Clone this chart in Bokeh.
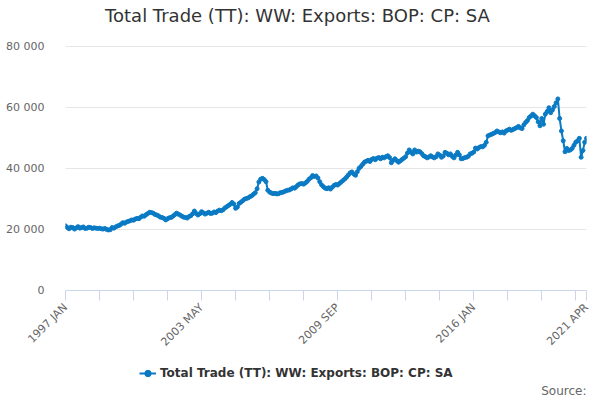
import numpy as np
from bokeh.plotting import figure
from bokeh.layouts import column
from bokeh.models import ColumnDataSource, FixedTicker, Legend, LegendItem, Label
from bokeh.embed import file_html
from bokeh.resources import INLINE

SERIES_NAME = "Total Trade (TT): WW: Exports: BOP: CP: SA"
START_YEAR = 1997
MONTH_NAMES = ["JAN", "FEB", "MAR", "APR", "MAY", "JUN",
               "JUL", "AUG", "SEP", "OCT", "NOV", "DEC"]

# monthly values, £ million
exports_1997 = [21150, 20600, 20200, 20700, 20600, 20100, 20500, 20900, 20400, 20600, 20800, 20300]
exports_1998 = [20400, 20700, 20600, 20300, 20500, 20400, 20300, 20400, 20200, 20100, 20300, 20000]
exports_1999 = [19800, 19900, 20600, 20400, 20800, 21100, 21300, 21700, 22200, 22000, 22400, 22600]
exports_2000 = [22800, 23100, 23000, 23400, 23600, 23500, 24000, 24400, 24300, 24800, 25200, 25600]
exports_2001 = [25500, 25300, 24900, 24700, 24400, 24000, 23900, 23600, 23100, 23500, 23800, 23900]
exports_2002 = [24300, 24800, 25300, 25000, 24700, 24300, 24000, 23900, 23700, 24200, 24500, 25100]
exports_2003 = [26000, 25200, 24700, 25100, 25800, 25400, 25000, 25300, 25600, 25200, 25300, 25700]
exports_2004 = [25500, 26000, 26300, 26100, 26400, 27000, 27400, 27800, 28200, 28800, 28300, 26900]
exports_2005 = [27300, 28500, 28900, 29400, 29900, 30100, 30300, 30700, 31000, 31500, 32000, 33300]
exports_2006 = [35500, 36400, 36700, 36300, 35600, 32800, 32200, 31900, 31700, 31800, 31600, 31700]
exports_2007 = [32000, 32100, 32300, 32600, 32800, 32900, 33200, 33600, 33500, 34000, 34600, 34900]
exports_2008 = [35000, 34800, 35200, 35700, 36400, 36900, 37600, 37300, 37500, 36800, 35600, 34600]
exports_2009 = [34000, 33500, 33300, 33600, 33200, 33800, 34400, 34700, 34500, 35000, 35500, 36000]
exports_2010 = [36500, 37100, 37800, 38500, 38800, 38100, 37700, 38900, 40000, 40600, 41300, 42000]
exports_2011 = [42300, 42600, 42200, 42900, 43200, 42800, 43300, 43500, 43100, 43600, 43400, 43800]
exports_2012 = [44100, 43500, 41800, 42600, 43100, 42500, 42000, 42400, 42900, 43300, 43800, 45000]
exports_2013 = [46000, 45200, 44700, 46000, 45300, 45600, 45400, 44800, 44100, 43800, 43400, 43700]
exports_2014 = [44100, 43700, 43400, 43800, 44700, 44300, 43600, 44000, 45200, 44900, 44400, 44700]
exports_2015 = [43900, 43400, 44300, 45200, 44400, 43100, 43200, 43500, 43600, 43900, 44700, 44900]
exports_2016 = [45300, 46600, 46300, 46800, 47100, 47000, 47500, 48500, 50600, 50900, 51100, 51400]
exports_2017 = [51700, 52200, 51900, 51600, 51900, 51500, 52200, 52500, 52800, 52400, 52700, 53000]
exports_2018 = [53300, 53700, 53200, 53000, 54200, 55000, 55600, 56600, 57100, 57700, 57200, 56600]
exports_2019 = [55200, 53900, 56300, 54400, 57700, 58600, 59800, 58200, 59100, 60200, 61400, 62700]
exports_2020 = [56300, 52200, 49000, 45400, 46500, 45800, 46000, 46500, 47500, 48500, 49000, 49800]
exports_2021 = [43600, 45800, 48500, 49800]

y_ticks = [0, 20000, 40000, 60000, 80000]
x_tick_labels = ["1997 JAN", "2003 MAY", "2009 SEP", "2016 JAN", "2021 APR"]

BLUE = "#0a7ac4"
FONT = "DejaVu Sans"
FRAME_H = 293      # chart frame runs from the top of the page down to the x axis
GRID_TOP = 46      # pixel row of the highest grid line

values = (exports_1997 + exports_1998 + exports_1999 + exports_2000 + exports_2001
          + exports_2002 + exports_2003 + exports_2004 + exports_2005 + exports_2006
          + exports_2007 + exports_2008 + exports_2009 + exports_2010 + exports_2011
          + exports_2012 + exports_2013 + exports_2014 + exports_2015 + exports_2016
          + exports_2017 + exports_2018 + exports_2019 + exports_2020 + exports_2021)
months = ["%d %s" % (START_YEAR + i // 12, MONTH_NAMES[i % 12]) for i in range(len(values))]
last = len(values) - 1

source = ColumnDataSource(data=dict(x=np.arange(len(values)), value=values, month=months))

## Main chart
y_top = y_ticks[-1] * FRAME_H / (FRAME_H - GRID_TOP)
chart = figure(width=596, height=FRAME_H + 63,
               x_range=(0, last), y_range=(y_ticks[0], y_top),
               output_backend="svg", toolbar_location=None,
               min_border_left=65, min_border_right=10,
               min_border_top=0, min_border_bottom=63)
chart.outline_line_color = None

line_r = chart.line(x="x", y="value", source=source, line_color=BLUE, line_width=2)
dots_r = chart.scatter(x="x", y="value", source=source, size=4,
                       fill_color=BLUE, line_color=BLUE)

# y axis: labels only, light grid
y_ticker = FixedTicker(ticks=y_ticks)
chart.yaxis.ticker = y_ticker
chart.ygrid.ticker = y_ticker
chart.yaxis.major_label_overrides = {t: "{:,}".format(t).replace(",", " ") for t in y_ticks}
chart.yaxis.axis_line_color = None
chart.yaxis.major_tick_line_color = None
chart.yaxis.minor_tick_line_color = None
chart.yaxis.major_label_standoff = 15
chart.yaxis.major_label_text_font = FONT
chart.yaxis.major_label_text_font_size = "11px"
chart.yaxis.major_label_text_color = "#666666"
chart.ygrid.grid_line_color = "#e6e6e6"
chart.xgrid.visible = False

# x axis: tick every 19 months, label every 4th tick
x_ticks = list(range(0, last, 19)) + [last]
chart.xaxis.ticker = FixedTicker(ticks=x_ticks)
chart.xaxis.major_label_overrides = {
    t: (months[t] if months[t] in x_tick_labels else "") for t in x_ticks}
chart.xaxis.major_label_orientation = np.pi / 4
chart.xaxis.axis_line_color = "#ccd6eb"
chart.xaxis.major_tick_line_color = "#ccd6eb"
chart.xaxis.minor_tick_line_color = None
chart.xaxis.major_tick_in = 0
chart.xaxis.major_tick_out = 10
chart.xaxis.major_label_standoff = 5
chart.xaxis.major_label_text_font = FONT
chart.xaxis.major_label_text_font_size = "11px"
chart.xaxis.major_label_text_color = "#666666"

# title sits in the empty strip above the top grid line
title = Label(x=232, y=FRAME_H - 18, x_units="screen", y_units="screen",
              text=SERIES_NAME, text_align="center", text_baseline="middle",
              text_font=FONT, text_font_size="18px", text_color="#333333")
chart.add_layout(title)

## Footer: legend and source note (its frame lines up with the chart's)
footer = figure(width=596, height=42, x_range=(0, 1), y_range=(0, 1),
                x_axis_type=None, y_axis_type=None,
                output_backend="svg", toolbar_location=None,
                min_border_left=0, min_border_right=0,
                min_border_top=0, min_border_bottom=0)
footer.outline_line_color = None
footer.grid.visible = False

# legend keys styled like the series; their single point lies off the footer ranges
key_line = footer.line(x=[-1, -1], y=[-1, -1], line_color=BLUE, line_width=2)
key_dot = footer.scatter(x=[-1], y=[-1], size=5, fill_color=BLUE, line_color=BLUE)

legend = Legend(items=[LegendItem(label=SERIES_NAME, renderers=[key_line, key_dot])],
                location=(74, 17), orientation="horizontal",
                label_text_font=FONT, label_text_font_style="bold",
                label_text_font_size="12px", label_text_color="#333333",
                glyph_width=17, glyph_height=16, label_height=16,
                label_standoff=4, padding=0, spacing=0, margin=0,
                border_line_alpha=0, background_fill_alpha=0)
footer.add_layout(legend)

credit = Label(x=521, y=8, x_units="screen", y_units="screen",
               text="Source:", text_align="right", text_baseline="middle",
               text_font=FONT, text_font_size="12px", text_color="#666666")
footer.add_layout(credit)

p = column(chart, footer, spacing=0)

open("out.html", "w").write(file_html(p, INLINE))
